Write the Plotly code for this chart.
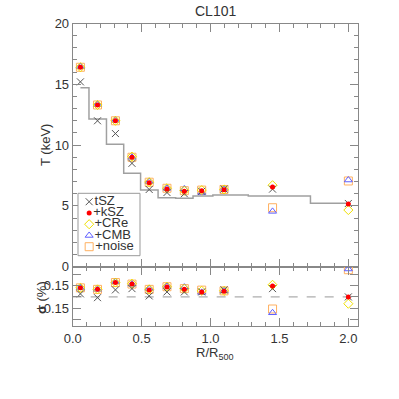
import plotly.graph_objects as go

# ---- data ----
r = [0.056, 0.18, 0.31, 0.43, 0.555, 0.684, 0.81, 0.936, 1.098, 1.45, 2.0]
T_true = [14.72, 12.15, 10.07, 7.68, 6.31, 5.67, 5.62, 5.81, 5.90, 5.81, 5.21]

T_tsz = [15.2, 12.0, 10.95, 8.5, 6.35, 6.1, 6.0, 6.2, 6.38, 6.38, 5.2]
T_ksz = [16.4, 13.3, 12.0, 9.0, 6.9, 6.4, 6.2, 6.25, 6.33, 6.55, 5.16]
T_cre = [16.4, 13.3, 12.0, 9.05, 6.95, 6.45, 6.25, 6.3, 6.35, 6.7, 4.66]
T_cmb = [16.45, 13.35, 12.05, 9.0, 7.0, 6.45, 6.4, 6.1, 6.38, 4.55, 7.13]
T_noise = [16.4, 13.3, 12.0, 9.0, 6.95, 6.45, 6.25, 6.3, 6.35, 4.85, 7.05]

S_tsz = [0.04, -0.01, 0.093, 0.11, 0.013, 0.066, 0.066, 0.066, 0.093, 0.11, 0.0]
S_ksz = [0.12, 0.10, 0.19, 0.17, 0.093, 0.13, 0.10, 0.066, 0.075, 0.146, 0.0]
S_cre = [0.12, 0.10, 0.19, 0.175, 0.10, 0.135, 0.11, 0.08, 0.08, 0.16, -0.09]
S_cmb = [0.12, 0.10, 0.20, 0.17, 0.11, 0.14, 0.13, 0.06, 0.08, -0.21, 0.37]
S_noise = [0.12, 0.10, 0.19, 0.17, 0.10, 0.135, 0.11, 0.09, 0.08, -0.16, 0.36]

labels = ["tSZ", "+kSZ", "+CRe", "+CMB", "+noise"]
x_ticks = [0.0, 0.5, 1.0, 1.5, 2.0]
x_ticktext = ["0.0", "0.5", "1.0", "1.5", "2.0"]
T_ticks = [0, 5, 10, 15, 20]
S_ticks = [-0.3, -0.15, 0.0, 0.15, 0.3]
S_ticktext = ["", "\u22120.15", "", "0.15", ""]

# ---- styles ----
W = H = 399
def px_x(p): return p / W
def px_y(p): return 1 - p / H

styles = [
    dict(symbol="x-thin-open", size=7, color="#555555", line=dict(color="#555555", width=1)),
    dict(symbol="circle", size=5, color="#ff0000", line=dict(width=0)),
    dict(symbol="diamond-open", size=7, color="#f0e000", line=dict(color="#f0e000", width=1)),
    dict(symbol="triangle-up-open", size=7, color="#6060ff", line=dict(color="#6060ff", width=1)),
    dict(symbol="square-open", size=8, color="#ffb060", line=dict(color="#ffb060", width=1)),
]
T_series = [T_tsz, T_ksz, T_cre, T_cmb, T_noise]
S_series = [S_tsz, S_ksz, S_cre, S_cmb, S_noise]
draw_order = [4, 3, 2, 0, 1]

fig = go.Figure()

fig.add_trace(go.Scatter(x=r, y=T_true, mode="lines", line=dict(shape="hvh", color="#a0a0a0", width=1.5),
                         xaxis="x", yaxis="y", showlegend=False, hoverinfo="skip"))
fig.add_trace(go.Scatter(x=[0, 2.07], y=[0, 0], mode="lines", line=dict(color="#999999", width=1, dash="dash"),
                         xaxis="x2", yaxis="y2", showlegend=False, hoverinfo="skip"))

for i in draw_order:
    fig.add_trace(go.Scatter(x=r, y=T_series[i], mode="markers", marker=styles[i], xaxis="x", yaxis="y",
                             showlegend=False, cliponaxis=True))
    fig.add_trace(go.Scatter(x=r, y=S_series[i], mode="markers", marker=styles[i], xaxis="x2", yaxis="y2",
                             showlegend=False, cliponaxis=True))

# manual legend on hidden axis
for i, lab in enumerate(labels):
    fig.add_trace(go.Scatter(x=[0.18], y=[i], mode="markers+text", marker=styles[i], text=[lab],
                             textposition="middle right", textfont=dict(size=13, color="#333333"),
                             xaxis="x3", yaxis="y3", showlegend=False, hoverinfo="skip", cliponaxis=False))

axcol = "#888888"
font = dict(family="Liberation Sans, Arial, sans-serif", size=13, color="#333333")
xdom = [px_x(72.7), px_x(358)]
top_dom = [px_y(266.7), px_y(23.5)]
bot_dom = [px_y(326), px_y(266.7)]

common_x = dict(range=[0, 2.07], domain=xdom, showgrid=False, zeroline=False, showline=True, linecolor=axcol,
                linewidth=1, mirror="ticks", ticks="inside", ticklen=8, tickcolor=axcol, tickvals=x_ticks,
                automargin=False,
                minor=dict(dtick=0.1, tick0=0, ticks="inside", ticklen=4, tickcolor=axcol))
fig.update_layout(
    width=W, height=H, margin=dict(l=0, r=0, t=0, b=0, autoexpand=False),
    paper_bgcolor="white", plot_bgcolor="white", font=font, showlegend=False,
    xaxis=dict(common_x, anchor="y", showticklabels=False),
    yaxis=dict(range=[0, 20], domain=top_dom, anchor="x", showgrid=False, zeroline=False, showline=True,
               linecolor=axcol, mirror="ticks", ticks="inside", ticklen=8, tickcolor=axcol, automargin=False,
               tickvals=T_ticks, ticktext=[str(t) for t in T_ticks],
               minor=dict(dtick=1, tick0=0, ticks="inside", ticklen=4, tickcolor=axcol)),
    xaxis2=dict(common_x, anchor="y2", ticktext=x_ticktext, showticklabels=True),
    yaxis2=dict(range=[-0.385, 0.40], domain=bot_dom, anchor="x2", showgrid=False, zeroline=False,
                showline=True, linecolor=axcol, mirror="ticks", ticks="inside", ticklen=8, tickcolor=axcol,
                automargin=False, tickvals=S_ticks, ticktext=S_ticktext),
    xaxis3=dict(range=[0, 1], domain=[px_x(78), px_x(140)], anchor="y3", visible=False, automargin=False),
    yaxis3=dict(range=[4.8, -0.75], domain=[px_y(255.7), px_y(193.3)], anchor="x3", visible=False,
                automargin=False),
)

fig.add_shape(type="rect", xref="paper", yref="paper", x0=px_x(78), x1=px_x(140), y0=px_y(255.7), y1=px_y(193.3),
              line=dict(color="#999999", width=1), fillcolor="rgba(0,0,0,0)")

ann = [
    dict(text="CL101", x=px_x(215), y=px_y(11), font=dict(size=14, color="#333333")),
    dict(text="T (keV)", x=px_x(46), y=px_y(145), textangle=-90),
    dict(text="<b>\u03c3</b> (%)", x=px_x(41), y=px_y(298), textangle=-90),
    dict(text="R/R<sub>500</sub>", x=px_x(215), y=px_y(353)),
]
for a in ann:
    fig.add_annotation(xref="paper", yref="paper", showarrow=False, xanchor="center", yanchor="middle", **a)

fig.write_html("out.html", config={"displayModeBar": False},
               post_script="document.body.style.margin='0';document.body.style.padding='0';")
